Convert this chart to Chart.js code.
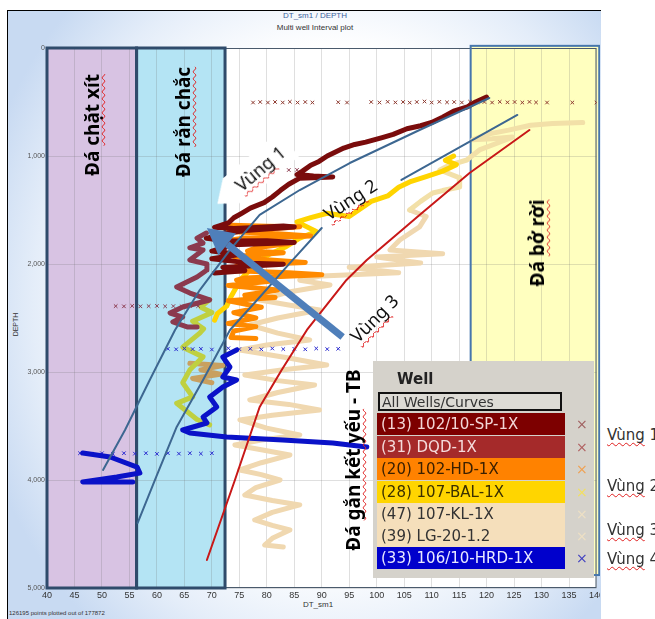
<!DOCTYPE html>
<html>
<head>
<meta charset="utf-8">
<script src="https://cdn.jsdelivr.net/npm/chart.js@4.4.1/dist/chart.umd.min.js"></script>
<style>
  body { margin: 0; width: 655px; height: 619px; background: #fff; position: relative; overflow: hidden; font-family: 'Liberation Sans', Arial, sans-serif; }
  #panel { position: absolute; left: 7px; top: 10px; width: 593px; height: 609px; border-left: 1px solid #000; border-top: 1px solid #000;
    background: radial-gradient(ellipse 62% 70% at 55% 48%, #ffffff 60%, #e4edf9 82%, #c8daf2 100%); }
  #wrap { position: absolute; left: 0; top: 0; width: 600px; height: 619px; overflow: hidden; }
  .t { position: absolute; white-space: nowrap; }
  .wavy { text-decoration: underline wavy #e02020; text-decoration-thickness: 1px; text-decoration-skip-ink: none; text-underline-offset: 2px; }
  .rock { font-family: 'Noto Sans', sans-serif; font-weight: bold; font-size: 19px; color: #000; }
  .note { font-family: 'Noto Sans', sans-serif; font-size: 18px; color: #111; }
  #legend { position: absolute; left: 373px; top: 361px; width: 221px; height: 217px; background: #d5d2cb; font-family: 'DejaVu Sans', sans-serif; }
  #legend .row { position: absolute; left: 4px; width: 188px; height: 22px; line-height: 22px; font-size: 15px; padding-left: 4px; box-sizing: border-box; white-space: nowrap; overflow: hidden; }
  #legend .mk { position: absolute; left: 203px; font-size: 14px; line-height: 22px; }
  .side { position: absolute; left: 607px; font-size: 15px; color: #333; font-family: 'DejaVu Sans', sans-serif; white-space: nowrap; }
</style>
</head>
<body>
<div id="panel"></div>
<div class="t" style="left:0;width:630px;top:11px;text-align:center;font-size:8px;color:#3d63a0;">DT_sm1 / DEPTH</div>
<div class="t" style="left:0;width:630px;top:23px;text-align:center;font-size:8px;color:#333;">Multi well Interval plot</div>
<div class="t" style="left:4px;top:321px;font-size:7px;color:#333;transform:rotate(-90deg);">DEPTH</div>
<div class="t" style="left:0;width:636px;top:600px;text-align:center;font-size:8px;color:#333;">DT_sm1</div>
<div class="t" style="left:9px;top:610px;font-size:6px;color:#333;">126195 points plotted out of 177872</div>
<div id="wrap"><canvas id="plot" width="606" height="619"></canvas></div>
<div id="labels"></div>
<div id="legend"></div>
<div class="side" style="top:426px;"><span class="wavy">Vùng</span> 1</div>
<div class="side" style="top:477px;"><span class="wavy">Vùng</span> 2</div>
<div class="side" style="top:521px;"><span class="wavy">Vùng</span> 3</div>
<div class="side" style="top:550px;"><span class="wavy">Vùng</span> 4</div>
<script>
// --- well curves, [DT_sm1, DEPTH] ---
const wellSP = [[120,455],[118,500],[116.5,545],[114,585],[112,640],[110,690],[108,720],[105.5,748],[103,800],[101,830],[98,872],[96,893],[94,926],[92.5,962],[91,1000],[89.5,1050],[88,1085],[86.5,1140],[85.5,1172],[88.5,1185],[92,1194],[86,1205],[84,1262],[82.5,1318],[81,1380],[79.5,1432],[77,1482],[75.5,1528],[74,1572],[73,1620],[70.5,1660],[74,1672],[79,1660],[83,1648],[85,1658],[76,1690],[72,1722],[69,1762],[73,1788],[80,1784],[85,1800],[74,1822],[70,1880],[75,1912],[70,1952],[77,1992],[83,2002],[72,2032],[76,2062],[70.5,2084]];
const wellDQD = [[69,1713],[67.3,1760],[68.4,1806],[66,1850],[68.4,1870],[66,1963],[69.1,2000],[69.1,2056],[67.3,2120],[63.6,2213],[66,2269],[69.6,2333],[64.7,2398],[62.4,2454],[64.7,2491],[62.9,2537],[65.5,2583],[67.3,2583]];
const wellHD = [[72,1640],[80,1650],[86,1655],[79,1680],[73,1700],[82,1720],[88,1740],[76,1760],[72,1790],[84,1810],[78,1850],[76.5,1880],[83,1895],[74,1930],[80,1960],[87,1985],[75,2010],[73,2060],[84,2080],[90,2100],[76,2130],[74.5,2150],[80.5,2160],[73,2200],[82,2240],[76,2290],[81.5,2310],[73,2340],[79,2400],[74,2450],[78,2500],[73,2550],[78,2580],[74,2620],[73.5,2680],[78,2690]];
const wellBAL = [[114,1000],[112.5,1040],[114.5,1080],[112,1140],[109,1190],[106,1240],[104,1290],[102,1370],[99,1420],[95,1560],[91,1530],[88,1570],[85.5,1610],[89,1700],[86,1760],[83.5,1840],[80.5,1910],[79,1960],[77,2050],[75.5,2130],[74.5,2210],[73.5,2300],[72.7,2390],[71,2460],[70.5,2520]];
const wellBALdeep = [[69.6,2330],[68,2400],[70,2450],[66.5,2530],[68.5,2600],[67.8,2640],[64.7,2770],[68.4,2860],[66,2980],[64.7,3100],[66.5,3230],[63.6,3290],[67.3,3440],[69.6,3490]];
const wellKL = [[106,1500],[109,1560],[107.8,1657],[104.2,1778],[102.4,1870],[112,1905],[100,1935],[108,1990],[95,2030],[104,2080],[90,2110],[86,2150],[91.5,2194],[84,2260],[78.7,2333],[84,2380],[89.6,2426],[82,2500],[76.9,2565],[82,2640],[87.8,2704],[80,2750],[75.1,2796],[84,2870],[90.9,2935],[83,2980],[76,3028],[82,3080],[88.7,3120],[82,3190],[76.9,3259],[84,3300],[89.6,3352],[81,3400],[75.1,3444],[80,3520],[86,3583],[79,3630],[74.2,3676],[79,3720],[84.2,3769],[79,3840],[75.1,3907],[79,3950],[82.4,4000],[78,4070],[76,4139],[81,4190],[86,4231],[81,4300],[77.8,4370],[81,4420],[84.2,4463],[81,4540],[79.6,4602],[83,4620]];
const wellLG = [[137.5,690],[132,700],[128,715],[124,760],[120,800],[117.5,850],[121,840],[124.7,825],[122,880],[118.7,944],[116.4,1037],[113,1090],[111.5,1130],[115,1200],[115.1,1287],[112,1320],[110.2,1343],[108,1420],[106,1500]];
const wellTan = [[66,2920],[72,2940],[68,2980],[71.5,3020],[66.5,3060],[70,3100]];
const wellHRD = [[74.5,2796],[72,2861],[73.3,2954],[72,3046],[74.5,3074],[72,3139],[69.6,3231],[70.9,3324],[68.4,3417],[69.1,3472],[64.7,3537],[66,3565],[72.7,3602],[82.9,3630],[92,3657],[98.2,3694]];
const wellHRDdeep = [[46.5,3750],[51.5,3787],[56.4,3880],[56.9,3935],[52.7,3972],[46.5,4018],[55.6,4018]];

// --- scattered crosses ---
const spMarks = [[77.5,505],[78.8,500],[80.2,505],[81.5,500],[82.9,505],[84.2,498],[85.6,505],[87,500],[88.3,505],[93,502],[94.6,505],[99,500],[100.5,505],[102,498],[103.4,504],[104.8,500],[106,506],[107.3,500],[108.7,495],[110,505],[111.4,498],[112.8,503],[114.1,500],[115.5,505],[117,498],[118.3,504],[119.6,500],[121,505],[122.4,498],[123.8,503],[125.1,500],[126.5,505],[127.8,499],[129,504],[131,505],[135.6,505],[140,505]];
const dqdMarks = [[52.5,2390],[54,2392],[55.5,2388],[57,2392],[58.5,2390],[60,2388],[61.5,2392],[63,2390],[64.5,2392],[66,2388],[67.5,2390],[84,1130],[85.5,1128]];
const hrdMarks = [[62,2785],[63.5,2790],[65,2782],[66.5,2788],[68,2785],[70,2792],[73,2780],[75,2788],[77,2785],[79,2790],[81,2782],[83,2788],[85,2785],[87,2790],[89,2782],[91,2788],[93,2785],[46,3752],[48,3756],[50,3752],[52,3758],[54,3752],[56,3756],[58,3752],[60,3758],[62,3752],[64,3756],[66,3752],[68,3756],[70,3752]];

// --- interpreted guide lines ---
const guide1 = [[120.5,463],[107.8,759],[95.1,1065],[86,1315],[78.7,1546],[73.3,1870],[67.8,2241],[63.3,2611],[58.7,3074],[54.2,3537],[50.2,3907]];
const guide2a = [[125.6,620],[104.5,1222]];
const guide2b = [[90,1667],[84.4,1981],[78.9,2296],[73.3,2611],[68.4,3074],[63.6,3509],[60,3954],[56.5,4398]];
const guide3 = [[127.8,759],[116.9,1157],[107.8,1546],[98.2,1963],[94.5,2148],[87.3,2611],[82.7,2981],[78.7,3324],[74.2,4000],[69.1,4741]];
const arrowTail = [93.8, 2676];
const arrowTip = [69.1, 1667];

// --- rock zones ---
const zoneFrom = [40, 56.3, 117.1];
const zoneTo = [56.3, 72.4, 140.5];
const zoneTop = [0, 0, -20];
const zoneBottom = [5000, 5000, 4880];
const zoneFill = ['#d8c3e3', '#b4e4f4', '#ffffbf'];
const zoneEdge = ['#2f4b6b', '#2f4b6b', '#4676ad'];

// --- text notes ---
const rockText = ['Đá <span class="wavy">chặt xít</span>', 'Đá <span class="wavy">rắn chắc</span>', 'Đá <span class="wavy">bở rời</span>', 'Đá <span class="wavy">gắn kết yếu</span> - TB'];
const rockDT = [48.2, 64.7, 129.1, 95.6];
const rockDepth = [710, 685, 1806, 3815];
const noteText = ['<span class="wavy">Vùng</span> 1', '<span class="wavy">Vùng</span> 2', '<span class="wavy">Vùng</span> 3'];
const noteDT = [77.5, 95.1, 99.6];
const noteDepth = [1170, 1398, 2500];
const noteAngle = [-40, -33, -45];

const wellNames = ['(13) 102/10-SP-1X', '(31) DQD-1X', '(20) 102-HD-1X', '(28) 107-BAL-1X', '(47) 107-KL-1X', '(39) LG-20-1.2', '(33) 106/10-HRD-1X'];
const wellBg = ['#7d0000', '#a52a2a', '#ff8200', '#ffd500', '#f5dfbb', '#f5dfbb', '#0000cc'];
const wellInk = ['#f3d6d6', '#f5dcdc', '#3a2000', '#3a3000', '#333', '#333', '#e8e8ff'];
const wellMark = ['#a06060', '#b06060', '#f0a050', '#f2e060', '#eee0c4', '#eee0c4', '#4040c0'];

const pts = a => a.map(([x, y]) => ({ x, y }));
const curve = (a, color, w, order) => ({ data: pts(a), showLine: true, borderColor: color, backgroundColor: color, borderWidth: w, pointRadius: 0, tension: 0, borderJoinStyle: 'round', borderCapStyle: 'round', order });
const marks = (a, color, order) => ({ data: pts(a), showLine: false, pointStyle: 'crossRot', pointRadius: 2.5, borderColor: color, borderWidth: 1, order });

const datasets = [
  curve(guide1, '#3d6791', 2, 1),
  curve(guide2a, '#3d6791', 2, 1),
  curve(guide2b, '#3d6791', 2, 1),
  curve(guide3, '#c81818', 2, 1),
  curve(wellSP, '#7a0c0c', 5, 3),
  curve(wellDQD, '#8b3a4e', 5, 4),
  curve(wellHRD, '#0a12c8', 5, 2),
  curve(wellHRDdeep, '#0a12c8', 5, 2),
  curve(wellHD, '#ff8a00', 5, 5),
  curve(wellBAL, '#ffd400', 5, 6),
  curve(wellBALdeep, '#bfd040', 5, 6),
  curve(wellTan, '#c8a060', 5, 6),
  curve(wellLG, '#f2e0a8', 5, 8),
  curve(wellKL, '#f0d8b0', 5, 8),
  marks(spMarks, '#8e3a30', 3),
  marks(dqdMarks, '#8b3a4e', 3),
  marks(hrdMarks, '#2a2ad0', 2)
];

const px = (chart, v) => chart.scales.x.getPixelForValue(v);
const py = (chart, v) => chart.scales.y.getPixelForValue(v);

const zonePlugin = {
  id: 'zones',
  beforeDraw(chart) {
    const { ctx, chartArea: a } = chart;
    ctx.save();
    ctx.fillStyle = '#fff';
    ctx.fillRect(a.left, a.top, a.right - a.left, a.bottom - a.top);
    zoneFrom.forEach((f, i) => {
      ctx.fillStyle = zoneFill[i];
      const x0 = px(chart, f), x1 = px(chart, zoneTo[i]);
      const y0 = py(chart, zoneTop[i]), y1 = py(chart, zoneBottom[i]);
      ctx.fillRect(x0, y0, x1 - x0, y1 - y0);
    });
    ctx.restore();
  },
  beforeDatasetsDraw(chart) {
    const { ctx, chartArea: a } = chart;
    ctx.save();
    ctx.strokeStyle = '#4a5a6c';
    ctx.lineWidth = 1;
    ctx.strokeRect(a.left + 0.5, a.top + 0.5, a.right - a.left - 1, a.bottom - a.top - 1);
    zoneFrom.forEach((f, i) => {
      ctx.strokeStyle = zoneEdge[i];
      ctx.lineWidth = i < 2 ? 3 : 2;
      const x0 = px(chart, f), x1 = px(chart, zoneTo[i]);
      const y0 = py(chart, zoneTop[i]), y1 = py(chart, zoneBottom[i]);
      ctx.strokeRect(x0, y0, x1 - x0, y1 - y0);
    });
    ctx.restore();
  },
  afterDatasetsDraw(chart) {
    const { ctx } = chart;
    const x0 = px(chart, arrowTail[0]), y0 = py(chart, arrowTail[1]);
    const x1 = px(chart, arrowTip[0]), y1 = py(chart, arrowTip[1]);
    const ang = Math.atan2(y1 - y0, x1 - x0);
    const head = 26, half = 14;
    const bx = x1 - head * Math.cos(ang), by = y1 - head * Math.sin(ang);
    ctx.save();
    ctx.strokeStyle = '#4f7fba';
    ctx.fillStyle = '#4f7fba';
    ctx.lineWidth = 7;
    ctx.beginPath();
    ctx.moveTo(x0, y0);
    ctx.lineTo(bx, by);
    ctx.stroke();
    ctx.beginPath();
    ctx.moveTo(x1, y1);
    ctx.lineTo(bx + half * Math.sin(ang), by - half * Math.cos(ang));
    ctx.lineTo(bx - half * Math.sin(ang), by + half * Math.cos(ang));
    ctx.closePath();
    ctx.fill();
    ctx.restore();
  }
};

const chart = new Chart(document.getElementById('plot'), {
  type: 'scatter',
  data: { datasets },
  options: {
    responsive: false,
    animation: false,
    events: [],
    layout: { autoPadding: false, padding: { top: 48, right: 3, bottom: 0, left: 0 } },
    plugins: { legend: { display: false }, tooltip: { enabled: false } },
    scales: {
      x: {
        type: 'linear', min: 40, max: 140,
        afterFit: s => { s.height = 31; },
        border: { display: false },
        grid: { color: 'rgba(110,110,110,0.22)', drawTicks: false },
        ticks: { stepSize: 5, padding: 2, maxRotation: 0, autoSkip: false, color: '#333', font: { size: 9, family: 'Liberation Sans Narrow, Liberation Sans' } }
      },
      y: {
        type: 'linear', min: 0, max: 5000, reverse: true,
        afterFit: s => { s.width = 47; },
        border: { display: false },
        grid: { color: 'rgba(110,110,110,0.22)', drawTicks: false },
        ticks: { stepSize: 1000, padding: 2, color: '#555', font: { size: 7, family: 'Liberation Sans' } }
      }
    }
  },
  plugins: [zonePlugin]
});

// notes placed through the chart scales
const labels = document.getElementById('labels');
rockText.forEach((t, i) => {
  const d = document.createElement('div');
  d.className = 't rock';
  d.innerHTML = t;
  d.style.left = px(chart, rockDT[i]) + 'px';
  d.style.top = py(chart, rockDepth[i]) + 'px';
  d.style.transform = 'translate(-50%,-50%) rotate(-90deg)';
  labels.appendChild(d);
});
noteText.forEach((t, i) => {
  const d = document.createElement('div');
  d.className = 't note';
  d.innerHTML = t;
  d.style.left = px(chart, noteDT[i]) + 'px';
  d.style.top = py(chart, noteDepth[i]) + 'px';
  if (i === 0) {
    d.style.background = '#fff';
    d.style.padding = '4px 8px 4px 26px';
    d.style.clipPath = 'polygon(22% 0, 100% 0, 100% 100%, 22% 100%, 0 50%)';
  }
  d.style.transform = `translate(-50%,-50%) rotate(${noteAngle[i]}deg)`;
  labels.appendChild(d);
});

// well legend box
const lg = document.getElementById('legend');
lg.innerHTML = '<div class="t" style="left:24px;top:9px;font-weight:bold;font-size:15px;color:#222;">Well</div>' +
  '<div class="t" style="left:5px;top:31px;width:184px;height:19px;border:2px solid #111;box-sizing:border-box;font-size:14px;line-height:16px;color:#333;padding-left:2px;background:#dddbd5;">All Wells/Curves</div>';
const rowTop = [52, 75, 97, 120, 142, 164, 186];
wellNames.forEach((n, i) => {
  const r = document.createElement('div');
  r.className = 'row';
  r.style.top = rowTop[i] + 'px';
  r.style.background = wellBg[i];
  r.style.color = wellInk[i];
  r.textContent = n;
  lg.appendChild(r);
  const m = document.createElement('div');
  m.className = 'mk';
  m.style.top = rowTop[i] + 'px';
  m.style.color = wellMark[i];
  m.textContent = '×';
  lg.appendChild(m);
});
</script>
</body>
</html>
